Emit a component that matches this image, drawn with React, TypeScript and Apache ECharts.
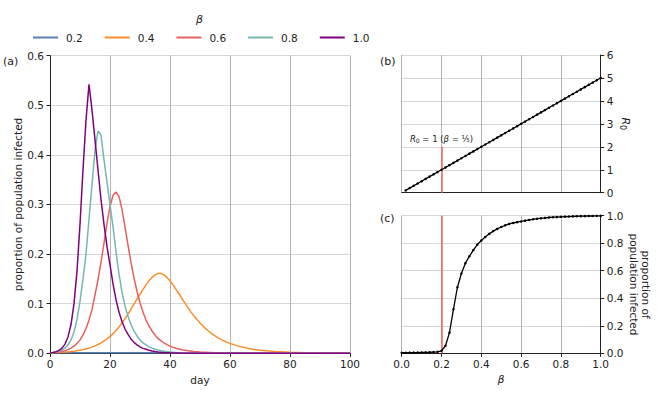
import React, { useEffect, useRef } from "react";
import * as echarts from "echarts";

const FONT = "DejaVu Sans";
const INK = "#222222";

const betaLabels = ["0.2", "0.4", "0.6", "0.8", "1.0"];
const seriesColors = ["#5b80b4", "#f98e2a", "#e8605e", "#76b7b2", "#800080"];

// panel (a): proportion infected by day, [day, value]
const infected02: [number, number][] = [
  [0, 0.001], [20, 0.001], [40, 0.001], [60, 0.001], [80, 0.001], [100, 0.001],
];
const infected04: [number, number][] = [
  [0, 0.001], [1, 0.0012], [2, 0.00144], [3, 0.00173], [4, 0.00207], [5, 0.00249], [6, 0.00298], [7, 0.00358],
  [8, 0.0043], [9, 0.0051], [10, 0.0062], [11, 0.0074], [12, 0.0088], [13, 0.0105], [14, 0.0125], [15, 0.0149],
  [16, 0.0177], [17, 0.021], [18, 0.0248], [19, 0.0292], [20, 0.034], [21, 0.0396], [22, 0.046], [23, 0.053],
  [24, 0.061], [25, 0.07], [26, 0.079], [27, 0.089], [28, 0.099], [29, 0.109], [30, 0.119], [31, 0.129],
  [32, 0.138], [33, 0.146], [34, 0.153], [35, 0.158], [36, 0.161], [37, 0.161], [38, 0.158], [39, 0.153],
  [40, 0.146], [41, 0.138], [42, 0.129], [43, 0.12], [44, 0.11], [45, 0.101], [46, 0.092], [47, 0.083],
  [48, 0.075], [49, 0.068], [50, 0.061], [51, 0.055], [52, 0.049], [53, 0.044], [54, 0.039], [55, 0.035],
  [56, 0.031], [57, 0.028], [58, 0.025], [59, 0.022], [60, 0.02], [62, 0.016], [64, 0.0125], [66, 0.0099],
  [68, 0.0078], [70, 0.0062], [72, 0.0049], [75, 0.0035], [80, 0.002], [85, 0.0011], [90, 0.0006],
  [95, 0.0003], [100, 0.0002],
];
const infected06: [number, number][] = [
  [0, 0.001], [1, 0.0014], [2, 0.002], [3, 0.0027], [4, 0.0038], [5, 0.0053], [6, 0.0074], [7, 0.0103],
  [8, 0.0143], [9, 0.02], [10, 0.027], [11, 0.037], [12, 0.05], [13, 0.067], [14, 0.088], [15, 0.118],
  [16, 0.148], [17, 0.183], [18, 0.222], [19, 0.262], [20, 0.296], [21, 0.318], [22, 0.325], [23, 0.316],
  [24, 0.29], [25, 0.255], [26, 0.218], [27, 0.183], [28, 0.152], [29, 0.125], [30, 0.102], [31, 0.083],
  [32, 0.067], [33, 0.055], [34, 0.045], [35, 0.037], [36, 0.03], [37, 0.025], [38, 0.021], [39, 0.0175],
  [40, 0.0145], [42, 0.0103], [44, 0.0073], [46, 0.0052], [48, 0.0037], [50, 0.0026], [55, 0.0011],
  [60, 0.0005], [70, 0.0001], [80, 0], [100, 0],
];
const infected08: [number, number][] = [
  [0, 0.001], [1, 0.0016], [2, 0.0026], [3, 0.0041], [4, 0.0066], [5, 0.0105], [6, 0.017], [7, 0.027],
  [8, 0.043], [9, 0.068], [10, 0.105], [11, 0.15], [12, 0.2], [13, 0.27], [14, 0.34], [15, 0.41],
  [16, 0.448], [17, 0.44], [18, 0.39], [19, 0.345], [20, 0.3], [21, 0.255], [22, 0.205], [23, 0.16],
  [24, 0.123], [25, 0.095], [26, 0.074], [27, 0.058], [28, 0.045], [29, 0.035], [30, 0.027], [31, 0.021],
  [32, 0.017], [33, 0.013], [34, 0.0105], [35, 0.0083], [36, 0.0066], [37, 0.0052], [38, 0.0041],
  [40, 0.0026], [42, 0.0017], [45, 0.0009], [50, 0.0003], [55, 0.0001], [70, 0], [100, 0],
];
const infected10: [number, number][] = [
  [0, 0.001], [1, 0.0018], [2, 0.0032], [3, 0.0058], [4, 0.0104], [5, 0.0186], [6, 0.033], [7, 0.058],
  [8, 0.1], [9, 0.165], [10, 0.26], [11, 0.37], [12, 0.47], [13, 0.542], [14, 0.49], [15, 0.43],
  [16, 0.37], [17, 0.31], [18, 0.26], [19, 0.215], [20, 0.178], [21, 0.14], [22, 0.108], [23, 0.083],
  [24, 0.064], [25, 0.049], [26, 0.038], [27, 0.029], [28, 0.022], [29, 0.017], [30, 0.013], [31, 0.01],
  [32, 0.008], [33, 0.006], [34, 0.0047], [35, 0.0036], [36, 0.0028], [37, 0.0022], [38, 0.0017],
  [40, 0.001], [45, 0.0003], [50, 0.0001], [60, 0], [80, 0], [100, 0],
];
const infectedSeries = [infected02, infected04, infected06, infected08, infected10];

// panel (b): R0 against beta
const betaR0 = [
  0.02, 0.04, 0.06, 0.08, 0.1, 0.12, 0.14, 0.16, 0.18, 0.2, 0.22, 0.24, 0.26, 0.28, 0.3, 0.32, 0.34,
  0.36, 0.38, 0.4, 0.42, 0.44, 0.46, 0.48, 0.5, 0.52, 0.54, 0.56, 0.58, 0.6, 0.62, 0.64, 0.66, 0.68,
  0.7, 0.72, 0.74, 0.76, 0.78, 0.8, 0.82, 0.84, 0.86, 0.88, 0.9, 0.92, 0.94, 0.96, 0.98, 1.0,
];
const r0Values = [
  0.1, 0.2, 0.3, 0.4, 0.5, 0.6, 0.7, 0.8, 0.9, 1.0, 1.1, 1.2, 1.3, 1.4, 1.5, 1.6, 1.7,
  1.8, 1.9, 2.0, 2.1, 2.2, 2.3, 2.4, 2.5, 2.6, 2.7, 2.8, 2.9, 3.0, 3.1, 3.2, 3.3, 3.4,
  3.5, 3.6, 3.7, 3.8, 3.9, 4.0, 4.1, 4.2, 4.3, 4.4, 4.5, 4.6, 4.7, 4.8, 4.9, 5.0,
];

// panel (c): final proportion infected against beta
const betaFinal = [
  0, 0.02, 0.04, 0.06, 0.08, 0.1, 0.12, 0.14, 0.16, 0.18, 0.2, 0.22, 0.24, 0.26, 0.28, 0.3, 0.32, 0.34,
  0.36, 0.38, 0.4, 0.42, 0.44, 0.46, 0.48, 0.5, 0.52, 0.54, 0.56, 0.58, 0.6, 0.62, 0.64, 0.66, 0.68,
  0.7, 0.72, 0.74, 0.76, 0.78, 0.8, 0.82, 0.84, 0.86, 0.88, 0.9, 0.92, 0.94, 0.96, 0.98, 1.0,
];
const finalValues = [
  0.004, 0.004, 0.0045, 0.005, 0.0055, 0.006, 0.0065, 0.0075, 0.009, 0.011, 0.018, 0.055, 0.15, 0.32,
  0.48, 0.58, 0.655, 0.705, 0.75, 0.79, 0.82, 0.845, 0.868, 0.888, 0.904, 0.918, 0.93, 0.94, 0.947,
  0.953, 0.958, 0.964, 0.969, 0.974, 0.978, 0.981, 0.984, 0.987, 0.989, 0.99, 0.992, 0.993, 0.994,
  0.995, 0.996, 0.997, 0.997, 0.998, 0.998, 0.999, 0.999,
];

const threshold = 0.2;
const thresholdR0 = 1;

const tickFont = { fontFamily: FONT, fontSize: 10.5, color: INK };
const axisLine = { show: true, onZero: false, lineStyle: { color: INK, width: 1 } };
const tick = { show: true, length: 3.5, lineStyle: { color: INK, width: 1 } };
const vGrid = { show: true, lineStyle: { color: "#b4b4b4", width: 1 } };
const hGrid = { show: true, lineStyle: { color: "#d6d6d6", width: 1.2 } };

export default function App() {
  const ref = useRef<HTMLDivElement>(null);
  useEffect(() => {
    if (!ref.current) return;
    const chart = echarts.init(ref.current, null, { renderer: "svg" });
    const option: any = {
      animation: false,
      backgroundColor: "#ffffff",
      textStyle: { fontFamily: FONT },
      grid: [
        { left: 50, top: 55.6, width: 300, height: 297.7 },
        { left: 401.7, top: 55, width: 199, height: 137.7 },
        { left: 401.7, top: 215.7, width: 199, height: 137.6 },
      ],
      xAxis: [
        {
          gridIndex: 0, type: "value", min: 0, max: 100, interval: 20,
          axisLine, axisTick: tick, axisLabel: { ...tickFont, margin: 5 }, splitLine: vGrid,
          name: "day", nameLocation: "middle", nameGap: 20,
          nameTextStyle: { ...tickFont },
        },
        {
          gridIndex: 1, type: "value", min: 0, max: 1, interval: 0.2,
          axisLine, axisTick: { show: false }, axisLabel: { show: false }, splitLine: vGrid,
        },
        {
          gridIndex: 2, type: "value", min: 0, max: 1, interval: 0.2,
          axisLine, axisTick: tick,
          axisLabel: { ...tickFont, margin: 5, formatter: (v: number) => v.toFixed(1) },
          splitLine: vGrid,
          name: "β", nameLocation: "middle", nameGap: 20,
          nameTextStyle: { ...tickFont, fontStyle: "italic" },
        },
      ],
      yAxis: [
        {
          gridIndex: 0, type: "value", min: 0, max: 0.6, interval: 0.1,
          axisLine, axisTick: tick,
          axisLabel: { ...tickFont, margin: 6, formatter: (v: number) => v.toFixed(1) },
          splitLine: hGrid,
          name: "proportion of population infected", nameLocation: "middle", nameGap: 26,
          nameTextStyle: { ...tickFont },
        },
        {
          gridIndex: 1, type: "value", position: "right", min: 0, max: 6, interval: 1,
          axisLine, axisTick: tick, axisLabel: { ...tickFont, margin: 6 }, splitLine: hGrid,
          name: "{i|R}{s|0}", nameLocation: "middle", nameGap: 18, nameRotate: -90,
          nameTextStyle: {
            ...tickFont,
            rich: {
              i: { fontFamily: FONT, fontSize: 11, fontStyle: "italic", color: INK },
              s: { fontFamily: FONT, fontSize: 8, color: INK, padding: [6, 0, 0, 0] },
            },
          },
        },
        {
          gridIndex: 2, type: "value", position: "right", min: 0, max: 1, interval: 0.2,
          axisLine, axisTick: tick,
          axisLabel: { ...tickFont, margin: 6, formatter: (v: number) => v.toFixed(1) },
          splitLine: hGrid,
          name: "proportion of\npopulation infected", nameLocation: "middle", nameGap: 27, nameRotate: -90,
          nameTextStyle: { ...tickFont, lineHeight: 12 },
        },
      ],
      legend: {
        data: betaLabels,
        left: 33, top: 32, padding: 0,
        icon: "rect", itemWidth: 25, itemHeight: 2, itemGap: 22,
        textStyle: { ...tickFont, padding: [0, 0, 0, 3] },
      },
      series: [
        ...infectedSeries.map((d, i) => ({
          name: betaLabels[i],
          type: "line",
          xAxisIndex: 0, yAxisIndex: 0,
          data: d,
          symbol: "none", showSymbol: false,
          color: seriesColors[i],
          lineStyle: { color: seriesColors[i], width: 1.5 },
          z: 2 + i,
        })),
        {
          name: "R0",
          type: "line",
          xAxisIndex: 1, yAxisIndex: 1,
          data: betaR0.map((b, i) => [b, r0Values[i]]),
          symbol: "circle", symbolSize: 2.5,
          itemStyle: { color: "#000000" },
          lineStyle: { color: "#000000", width: 1.3 },
          z: 5,
          markLine: {
            silent: true, symbol: ["none", "none"],
            lineStyle: { color: "#f06464", width: 1.5, type: "solid" },
            label: {
              show: true, position: "end", distance: 3,
              formatter: "{i|R}{s|0}{n| = 1 (}{i|β}{n| = ⅕)}",
              rich: {
                i: { fontFamily: FONT, fontSize: 8.5, fontStyle: "italic", color: INK },
                s: { fontFamily: FONT, fontSize: 6, color: INK, padding: [4, 0, 0, 0] },
                n: { fontFamily: FONT, fontSize: 8.5, color: INK },
              },
            },
            data: [[{ coord: [threshold, 0] }, { coord: [threshold, 2 * thresholdR0] }]],
          },
        },
        {
          name: "final",
          type: "line",
          xAxisIndex: 2, yAxisIndex: 2,
          data: betaFinal.map((b, i) => [b, finalValues[i]]),
          symbol: "circle", symbolSize: 2.5,
          itemStyle: { color: "#000000" },
          lineStyle: { color: "#000000", width: 1.3 },
          z: 5,
          markLine: {
            silent: true, symbol: ["none", "none"],
            lineStyle: { color: "#f06464", width: 1.5, type: "solid" },
            label: { show: false },
            data: [{ xAxis: threshold }],
          },
        },
      ],
      graphic: [
        { type: "text", left: 200 - 4, top: 14, style: { text: "β", font: `italic 11px "${FONT}"`, fill: INK } },
        { type: "text", left: 3, top: 56, style: { text: "(a)", font: `11px "${FONT}"`, fill: INK } },
        { type: "text", left: 380, top: 56, style: { text: "(b)", font: `11px "${FONT}"`, fill: INK } },
        { type: "text", left: 380, top: 213, style: { text: "(c)", font: `11px "${FONT}"`, fill: INK } },
      ],
    };
    chart.setOption(option);
    return () => chart.dispose();
  }, []);
  return (
    <div
      ref={ref}
      style={{ position: "fixed", left: 0, top: 0, width: 664, height: 399 }}
    />
  );
}
